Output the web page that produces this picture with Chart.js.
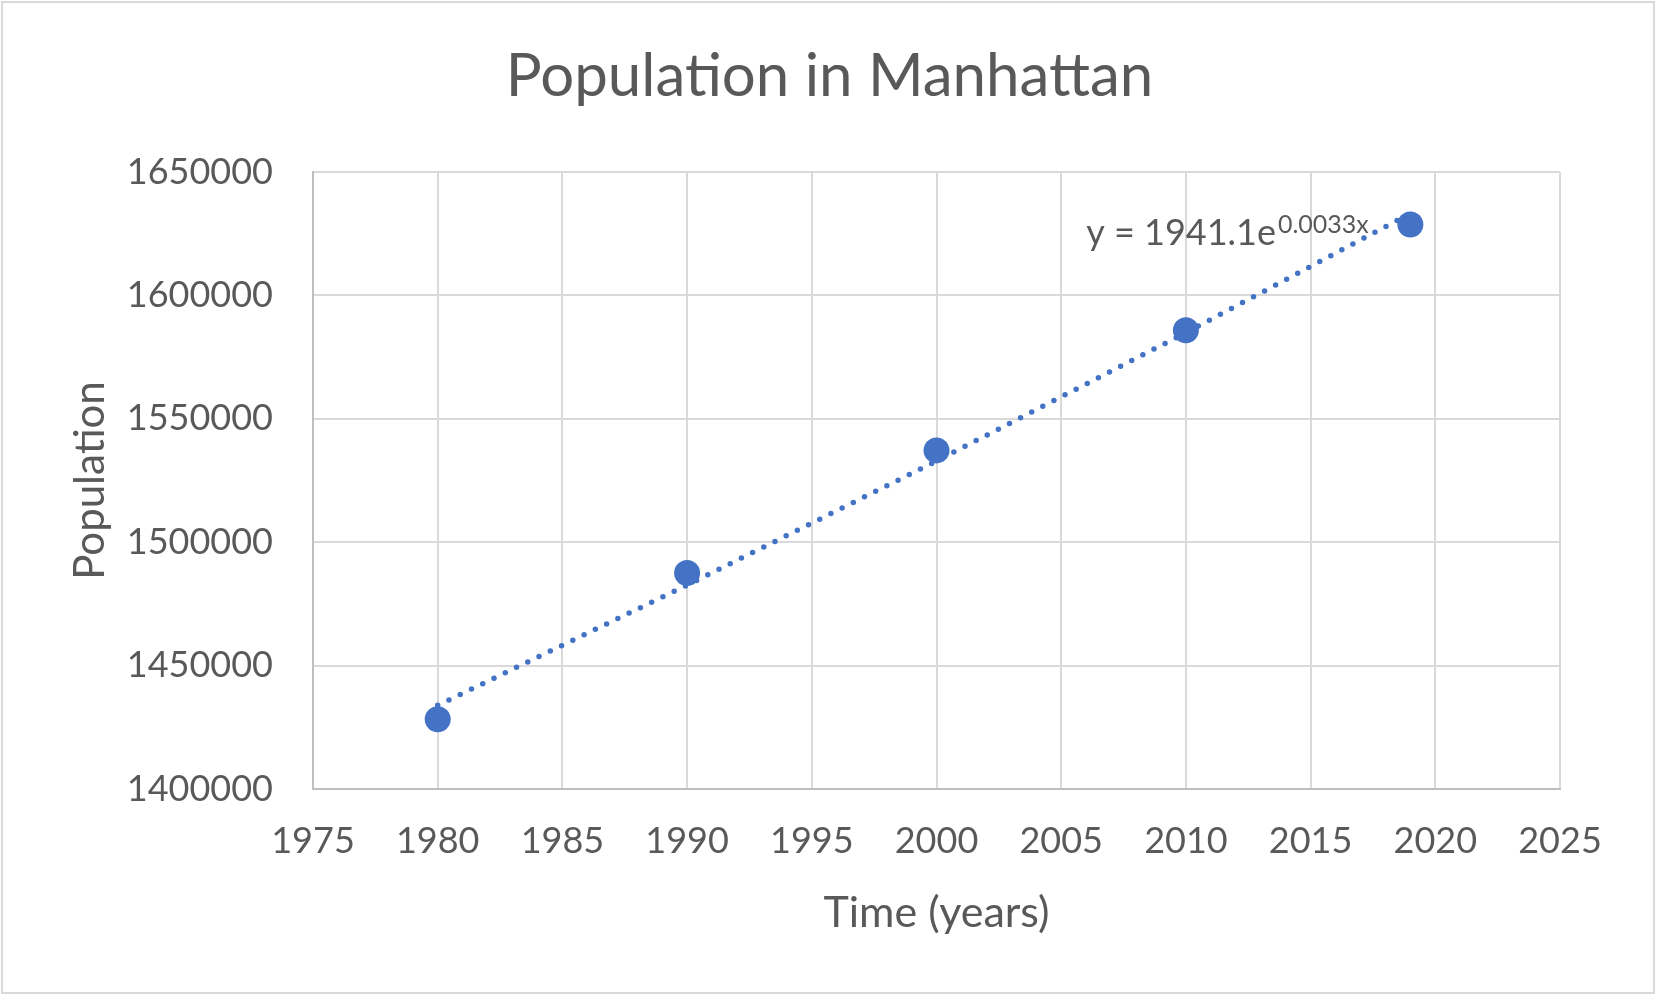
<!DOCTYPE html>
<html>
<head>
<meta charset="utf-8">
<script src="https://cdn.jsdelivr.net/npm/chart.js@4.4.1/dist/chart.umd.min.js"></script>
<style>
  html, body { margin: 0; padding: 0; background: #ffffff; }
  #wrap { width: 1659px; height: 999px; }
</style>
</head>
<body>
<div id="wrap"><canvas id="c" width="1659" height="999"></canvas></div>
<script>
// ---- data ----
const years = [1980, 1990, 2000, 2010, 2019];
const population = [1428285, 1487536, 1537195, 1585873, 1628706];
// exponential trendline (as drawn in the picture)
const trendYears = [1980, 1990, 2000, 2010, 2019];
const trendValues = [1433900, 1482600, 1532900, 1584900, 1633200];
const xTickRange = { min: 1975, max: 2025, step: 5 };
const yTickRange = { min: 1400000, max: 1650000, step: 50000 };
const titleText = 'Population in Manhattan';
const xTitleText = 'Time (years)';
const yTitleText = 'Population';
const eqMain = 'y = 1941.1e';
const eqSup = '0.0033x';

const TEXT = '#595959';
const GRID = '#d9d9d9';
const BLUE = '#4472C4';
const FONT = 'Lato';

const frame = {
  id: 'frame',
  beforeDraw(chart) {
    const ctx = chart.ctx;
    ctx.save();
    ctx.fillStyle = '#ffffff';
    ctx.fillRect(0, 0, chart.width, chart.height);
    ctx.strokeStyle = GRID;
    ctx.lineWidth = 2;
    ctx.strokeRect(2, 2, chart.width - 7, chart.height - 8);
    ctx.restore();
  }
};

const equation = {
  id: 'equation',
  afterDatasetsDraw(chart) {
    const ctx = chart.ctx;
    const xs = chart.scales.x, ys = chart.scales.y;
    const x0 = xs.getPixelForValue(2006.0);
    const y0 = ys.getPixelForValue(1620400);
    ctx.save();
    ctx.fillStyle = TEXT;
    ctx.textBaseline = 'alphabetic';
    ctx.textAlign = 'left';
    ctx.font = '36px ' + FONT;
    ctx.fillText(eqMain, x0, y0);
    const w = ctx.measureText(eqMain).width;
    ctx.font = '25px ' + FONT;
    ctx.fillText(eqSup, x0 + w + 2, y0 - 12);
    ctx.restore();
  }
};

new Chart(document.getElementById('c'), {
  type: 'scatter',
  data: {
    datasets: [
      {
        label: 'Population',
        data: years.map((y, i) => ({ x: y, y: population[i] })),
        backgroundColor: BLUE,
        borderColor: BLUE,
        pointRadius: 13,
        pointHoverRadius: 13,
        pointBorderWidth: 0
      },
      {
        label: 'Trend',
        data: trendYears.map((y, i) => ({ x: y, y: trendValues[i] })),
        showLine: true,
        borderColor: BLUE,
        backgroundColor: BLUE,
        borderWidth: 5.5,
        borderDash: [0, 12.5],
        borderCapStyle: 'round',
        pointRadius: 0,
        tension: 0,
        fill: false
      }
    ]
  },
  options: {
    responsive: false,
    animation: false,
    devicePixelRatio: 1,
    layout: { padding: 0 },
    plugins: {
      legend: { display: false },
      tooltip: { enabled: false },
      title: {
        display: true,
        text: titleText,
        color: TEXT,
        font: { family: FONT, size: 60, weight: 'normal', lineHeight: 1.2 },
        padding: { top: 41, bottom: 59 }
      }
    },
    scales: {
      x: {
        type: 'linear',
        position: 'bottom',
        min: xTickRange.min,
        max: xTickRange.max,
        afterFit: s => { s.height = 210; },
        ticks: {
          stepSize: xTickRange.step,
          color: TEXT,
          padding: 31,
          font: { family: FONT, size: 36, lineHeight: 1.2 },
          callback: v => String(v)
        },
        grid: { color: GRID, lineWidth: 2, drawTicks: false },
        border: { color: '#bfbfbf', width: 2 },
        title: {
          display: true,
          text: xTitleText,
          color: TEXT,
          font: { family: FONT, size: 43, lineHeight: 1.2 },
          padding: { top: 0, bottom: 60 }
        }
      },
      y: {
        type: 'linear',
        position: 'left',
        min: yTickRange.min,
        max: yTickRange.max,
        afterFit: s => { s.width = 313; },
        ticks: {
          stepSize: yTickRange.step,
          color: TEXT,
          padding: 40,
          font: { family: FONT, size: 36, lineHeight: 1.2 },
          callback: v => String(v)
        },
        grid: { color: GRID, lineWidth: 2, drawTicks: false },
        border: { color: '#bfbfbf', width: 2 },
        title: {
          display: true,
          text: yTitleText,
          color: TEXT,
          font: { family: FONT, size: 42, lineHeight: 1.2 },
          padding: { top: 65, bottom: 0 }
        }
      },
      yR: {
        type: 'linear',
        position: 'right',
        display: true,
        afterFit: s => { s.width = 99; },
        ticks: { display: false },
        grid: { display: false, drawTicks: false },
        border: { display: false }
      }
    }
  },
  plugins: [frame, equation]
});
</script>
</body>
</html>
